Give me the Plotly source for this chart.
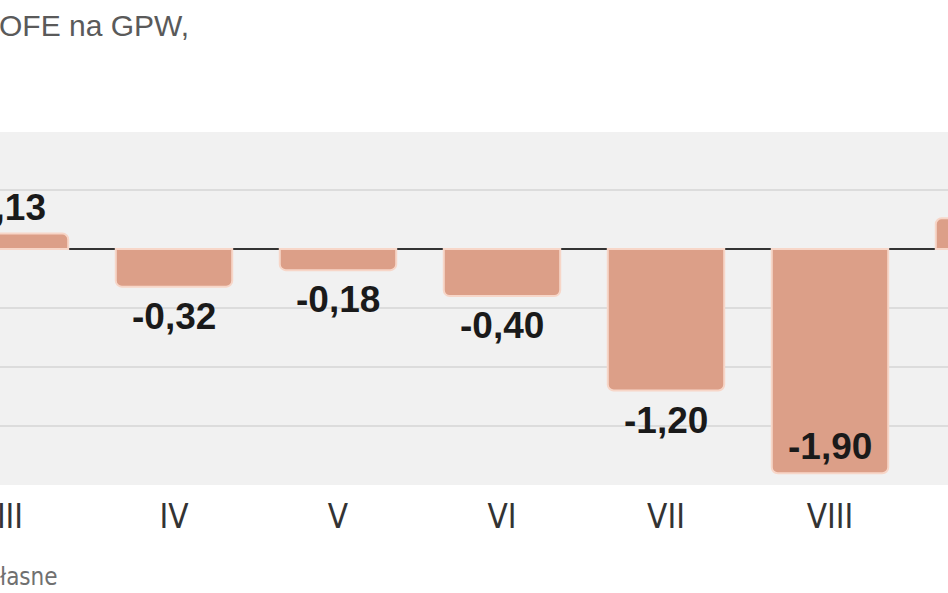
import plotly.graph_objects as go

months = ["III", "IV", "V", "VI", "VII", "VIII", "IX"]
values = [0.13, -0.32, -0.18, -0.40, -1.20, -1.90, 0.26]
labels = ["0,13", "-0,32", "-0,18", "-0,40", "-1,20", "-1,90", "0,26"]
title_text = "OFE na GPW,"
source_text = "łasne"

x = list(range(len(months)))
y_min, y_max = -2.0, 0.99

W, H = 948, 593
T, B = 132, 108
PH = H - T - B


def py(pix):
    # figure pixel (from top) -> paper y
    return (H - B - pix) / PH


fig = go.Figure()
fig.add_trace(go.Bar(
    x=x, y=values, width=0.71,
    marker=dict(color="#dc9f88", line=dict(color="#f7d6c8", width=2)),
    hoverinfo="skip",
))

annotations = []
for xi, v, t in zip(x, values, labels):
    if v >= 0:
        annotations.append(dict(x=xi, y=v, text=t, yanchor="bottom", yshift=4, showarrow=False))
    elif v < -1.5:
        annotations.append(dict(x=xi, y=v, text=t, yanchor="bottom", yshift=4, showarrow=False))
    else:
        annotations.append(dict(x=xi, y=v, text=t, yanchor="top", yshift=-7, showarrow=False))
for a in annotations:
    a.update(xref="x", yref="y",
             font=dict(family="Liberation Sans", size=37, color="#1a1a1a", weight="bold"))

annotations.append(dict(xref="paper", yref="paper", x=-3/W, y=py(25), xanchor="left", yanchor="middle",
                        text=title_text, showarrow=False,
                        font=dict(family="Liberation Sans", size=30, color="#5a5a5a")))
annotations.append(dict(xref="paper", yref="paper", x=-2/W, y=py(577), xanchor="left", yanchor="middle",
                        text=source_text, showarrow=False,
                        font=dict(family="DejaVu Sans Condensed", size=24, color="#707070")))

fig.update_layout(
    width=W, height=H,
    margin=dict(l=0, r=0, t=T, b=B, autoexpand=False),
    paper_bgcolor="white", plot_bgcolor="#f1f1f1",
    showlegend=False, barcornerradius=6,
    annotations=annotations,
    xaxis=dict(range=[-10/164, 938/164], tickvals=x, ticktext=months, showgrid=False,
               zeroline=False, showline=False, ticks="", ticklabeloverflow="allow",
               automargin=False,
               tickfont=dict(family="DejaVu Sans Condensed", size=33, color="#333333"),
               ticklabelstandoff=9),
    yaxis=dict(range=[y_min, y_max], dtick=0.5, showgrid=True, gridcolor="#dcdcdc", gridwidth=2,
               zeroline=True, zerolinecolor="#333333", zerolinewidth=2, showticklabels=False,
               automargin=False),
)

fig.write_html("out.html", config={"displayModeBar": False},
               post_script="document.body.style.margin='0';document.body.style.overflow='hidden';")
